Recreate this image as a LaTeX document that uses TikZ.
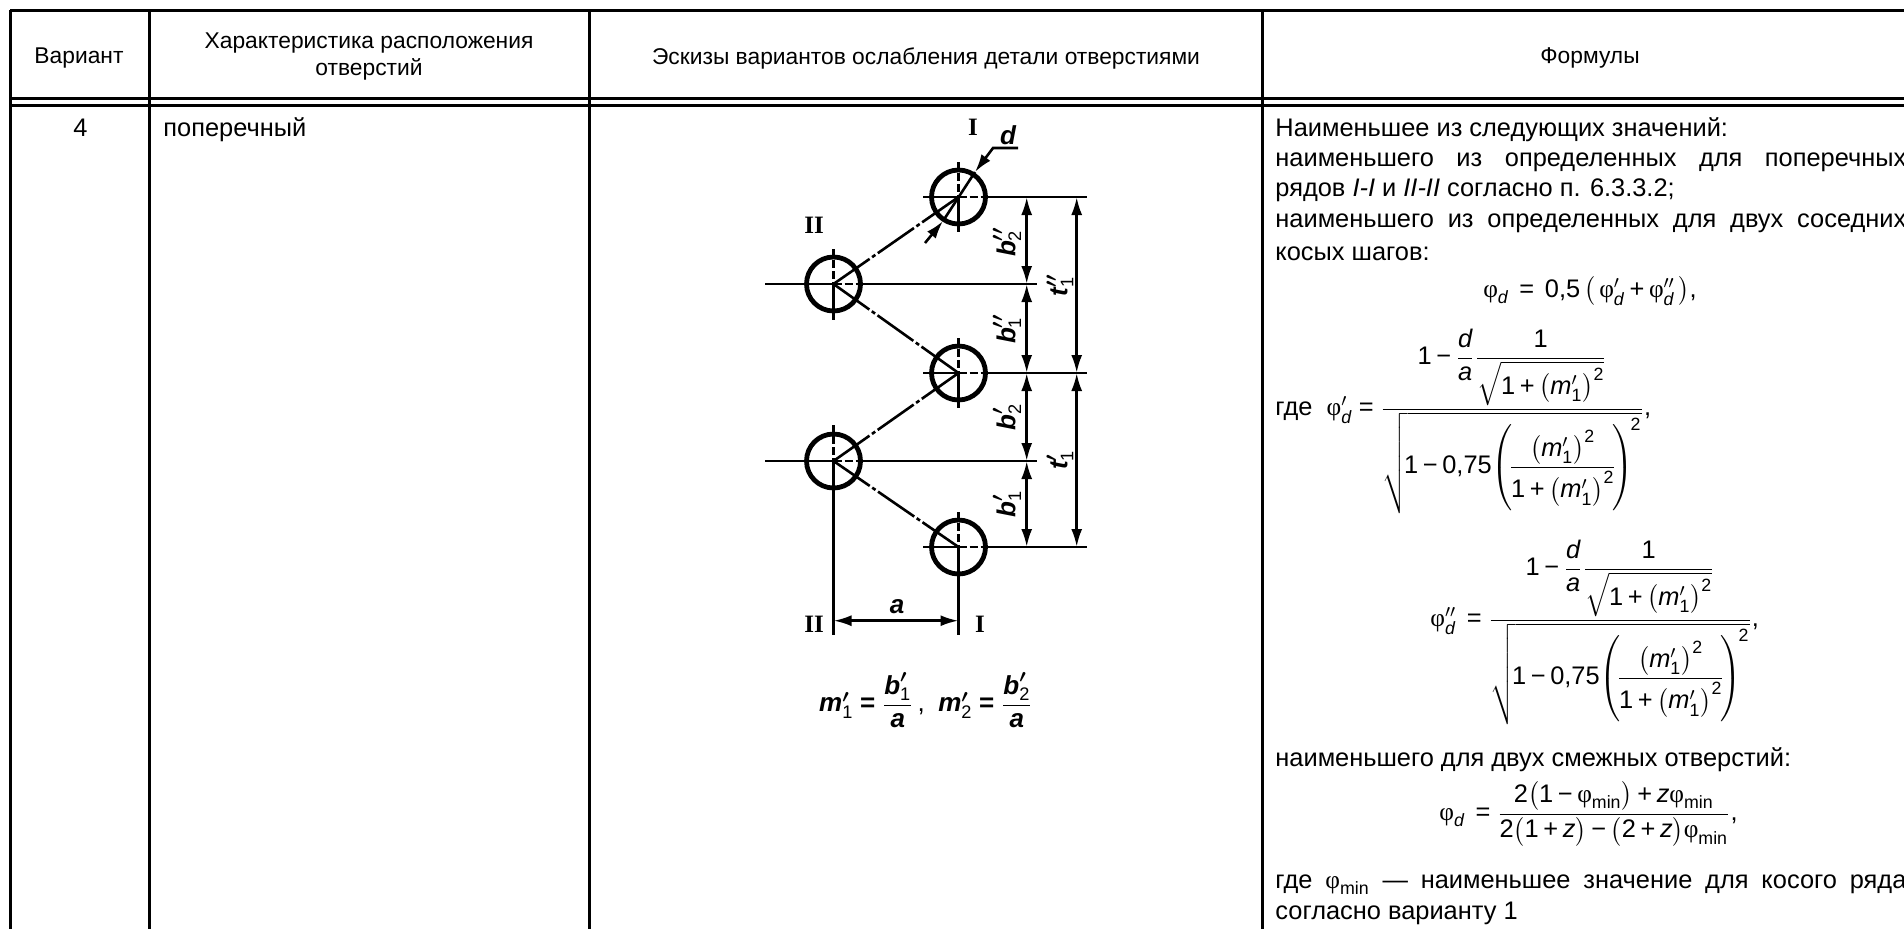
\documentclass[tikz,border=0pt]{standalone}
\usepackage{amsmath}
\usepackage{fontspec}
\setmainfont{Liberation Sans}
\newfontfamily\romfont{Liberation Serif}
\usetikzlibrary{arrows.meta}
\DeclareSymbolFont{chiffres}{TU}{\rmdefault}{m}{n}
\newcommand{\chif}[2]{\Umathcode`#1=#2 \symchiffres `#1\relax}
\AtBeginDocument{\medmuskip=3.5mu
\chif{0}{7}\chif{1}{7}\chif{2}{7}\chif{3}{7}\chif{4}{7}
\chif{5}{7}\chif{6}{7}\chif{7}{7}\chif{8}{7}\chif{9}{7}
\chif{+}{2}\chif{=}{3}\chif{,}{6}
\Umathcode`\-=2 \symchiffres "2212\relax}
\newcommand{\fii}{\text{\romfont φ}}
\newcommand{\bi}[1]{\text{\bfseries\itshape #1}}
\newcommand{\pp}{^{\boldsymbol{\prime}}}
\newcommand{\pq}{^{\boldsymbol{\prime\prime}}}
\newcommand{\beg}{\mathrel{\text{\bfseries =}}}
\newcommand{\mun}{\bigl(\mathit{m}'_1\bigr)^{2}}
\newcommand{\fracd}{\dfrac{1-\dfrac{\mathit{d}}{\mathit{a}}\dfrac{1}{\sqrt{1+\mun}}}{\sqrt{\!1-0{,}75{\left(\rule[-18pt]{0pt}{24pt}\!\dfrac{\mun}{1+\mun}\!\right)}^{\!2}}}}
\tikzset{trou/.style = {circle, draw, line width=2.4pt, minimum size=27pt, inner sep=0pt, outer sep=0pt},
         trait/.style = {line width=1.3pt},
         cadre/.style = {line width=1.5pt},
         axe/.style = {line width=1.3pt, dash pattern=on 4pt off 1.5pt},
         biais/.style = {line width=1.3pt, dash pattern=on 22pt off 1.5pt on 2pt off 1.5pt},
         cote/.style = {line width=1.3pt, {Latex[length=9pt,width=5.5pt]}-{Latex[length=9pt,width=5.5pt]}},
         fleche/.style = {line width=1.3pt, -{Latex[length=9pt,width=5.5pt]}},
         ligne/.style = {anchor=base west, font=\fontsize{12.7}{16}\selectfont},
         num/.style = {font=\romfont\bfseries\fontsize{12.5}{14}\selectfont},
         lettre/.style = {font=\fontsize{13}{16}\selectfont}
        }
\begin{document}
\begin{tikzpicture}[x=0.5pt,y=-0.5pt]
\tikzstyle{every node}=[inner sep=0pt,font=\fontsize{11.4}{13.5}\selectfont]
\useasboundingbox (0,0) rectangle (1904,928);
\coordinate (hg) at (10,10);
\coordinate (hd) at (1906,10);
\coordinate (bg) at (10,930);
\coordinate (m1) at (10,98);
\coordinate (m2) at (1906,98);
\coordinate (n1) at (10,105);
\coordinate (n2) at (1906,105);
\coordinate (v1) at (149.5,10);
\coordinate (w1) at (149.5,930);
\coordinate (v2) at (589,10);
\coordinate (w2) at (589,930);
\coordinate (v3) at (1262,10);
\coordinate (w3) at (1262,930);
\draw[cadre] (hg) -- (hd);
\draw[cadre] (hg) -- (bg);
\draw[cadre] (m1) -- (m2);
\draw[cadre] (n1) -- (n2);
\draw[cadre] (v1) -- (w1);
\draw[cadre] (v2) -- (w2);
\draw[cadre] (v3) -- (w3);
\node at (79,58.5) (tvar) {Вариант};
\node[align=center] at (369,56.5) (tcar) {Характеристика расположения\\отверстий};
\node at (926,58) (tesk) {Эскизы вариантов ослабления детали отверстиями};
\node at (1590,58) (tfor) {Формулы};
\node[ligne] at (79,136) (quatre) {\makebox[0pt]{4}};
\node[ligne] at (163,136) (pop) {поперечный};
%
\node[trou] at (958.5,197) (i1) {};
\node[trou] at (958.5,373) (i2) {};
\node[trou] at (958.5,547) (i3) {};
\node[trou] at (833.5,284) (g1) {};
\node[trou] at (833.5,461) (g2) {};
\coordinate (ig1) at (923,197);
\coordinate (ig2) at (923,373);
\coordinate (ig3) at (923,547);
\coordinate (id1) at (1087,197);
\coordinate (id2) at (1087,373);
\coordinate (id3) at (1087,547);
\coordinate (gg1) at (765,284);
\coordinate (gg2) at (765,461);
\coordinate (gd1) at (1037,284);
\coordinate (gd2) at (1037,461);
\draw[trait] (ig1) -- (i1.center);
\draw[trait] (ig2) -- (i2.center);
\draw[trait] (ig3) -- (i3.center);
\draw[trait] (gg1) -- (g1.center);
\draw[trait] (gg2) -- (g2.center);
\draw[axe] (i1.center) -- (i1.east);
\draw[axe] (i2.center) -- (i2.east);
\draw[axe] (i3.center) -- (i3.east);
\draw[axe] (g1.center) -- (g1.east);
\draw[axe] (g2.center) -- (g2.east);
\draw[trait] (i1.east) -- (id1);
\draw[trait] (i2.east) -- (id2);
\draw[trait] (i3.east) -- (id3);
\draw[trait] (g1.east) -- (gd1);
\draw[trait] (g2.east) -- (gd2);
\coordinate (ih1) at (958.5,162);
\coordinate (ib1) at (958.5,232);
\coordinate (ih2) at (958.5,338);
\coordinate (ib2) at (958.5,408);
\coordinate (ih3) at (958.5,512);
\coordinate (ib3) at (958.5,635);
\coordinate (gh1) at (833.5,249);
\coordinate (gb1) at (833.5,320);
\coordinate (gh2) at (833.5,425);
\coordinate (gb2) at (833.5,635);
\draw[axe] (ih1) -- (i1.center);
\draw[axe] (ih2) -- (i2.center);
\draw[axe] (ih3) -- (i3.center);
\draw[axe] (gh1) -- (g1.center);
\draw[axe] (gh2) -- (g2.center);
\draw[trait] (i1.center) -- (ib1);
\draw[trait] (i2.center) -- (ib2);
\draw[trait] (i3.center) -- (ib3);
\draw[trait] (g1.center) -- (gb1);
\draw[trait] (g2.center) -- (gb2);
\draw[biais] (g1.center) -- (i1.center);
\draw[biais] (g1.center) -- (i2.center);
\draw[biais] (g2.center) -- (i2.center);
\draw[biais] (g2.center) -- (i3.center);
\coordinate (d1) at (1018,148);
\coordinate (d2) at (993,148);
\coordinate (d3) at (975,172);
\coordinate (d4) at (943,221);
\coordinate (d5) at (925,243);
\draw[fleche] (d1) -- (d2) -- (d3);
\draw[trait] (d3) -- (d4);
\draw[fleche] (d5) -- (d4);
\coordinate (c1) at (1026.7,197);
\coordinate (c2) at (1026.7,284);
\coordinate (c3) at (1026.7,373);
\coordinate (c4) at (1026.7,461);
\coordinate (c5) at (1026.7,547);
\coordinate (t1) at (1076.7,197);
\coordinate (t2) at (1076.7,373);
\coordinate (t3) at (1076.7,547);
\coordinate (a1) at (833.5,620.7);
\coordinate (a2) at (958.5,620.7);
\draw[cote] (c1) -- (c2);
\draw[cote] (c2) -- (c3);
\draw[cote] (c3) -- (c4);
\draw[cote] (c4) -- (c5);
\draw[cote] (t1) -- (t2);
\draw[cote] (t2) -- (t3);
\draw[cote] (a1) -- (a2);
\node[num] at (973,127) (li1) {I};
\node[num] at (814,225) (lii1) {II};
\node[num] at (814,624) (lii2) {II};
\node[num] at (980,624) (li2) {I};
\node[lettre] at (1008,135) (ld) {$\bi{d}$};
\node[lettre] at (897,607) (la) {$\bi{a}$};
\node[lettre,rotate=90] at (1007,242) (lb22) {$\bi{b}\pq_2$};
\node[lettre,rotate=90] at (1007,329) (lb21) {$\bi{b}\pq_1$};
\node[lettre,rotate=90] at (1007,417) (lb12) {$\bi{b}\pp_2$};
\node[lettre,rotate=90] at (1007,504) (lb11) {$\bi{b}\pp_1$};
\node[lettre,rotate=90] at (1060,285) (lt2) {$\bi{t}\pq_1$};
\node[lettre,rotate=90] at (1060,460) (lt1) {$\bi{t}\pp_1$};
\node[lettre,anchor=base] at (926,711) (lm) {$\bi{m}\pp_1\beg\dfrac{\bi{b}\pp_1}{\bi{a}}\,\text{,}\;\;\bi{m}\pp_2\beg\dfrac{\bi{b}\pp_2}{\bi{a}}$};
%
\node[ligne] at (1275,136) (f1) {Наименьшее из следующих значений:};
\node[ligne] at (1275,166) (f2) {\makebox[315.5pt][s]{наименьшего из определенных для поперечных}};
\node[ligne] at (1275,196) (f3) {рядов \textit{I-I} и \textit{II-II} согласно п. 6.3.3.2;};
\node[ligne] at (1275,227) (f4) {\makebox[315.5pt][s]{наименьшего из определенных для двух соседних}};
\node[ligne] at (1275,260) (f5) {косых шагов:};
\node[ligne,anchor=base] at (1590,297) (eq1) {$\fii_{\mathit{d}}\,=\,0{,}5\,\bigl(\,\fii'_{\mathit{d}}+\fii''_{\mathit{d}}\,\bigr),$};
\node[ligne] at (1275,415) (eq2) {где\ \ $\fii'_{\mathit{d}}=\fracd,$};
\node[ligne] at (1430,626) (eq3) {$\fii''_{\mathit{d}}\,=\fracd,$};
\node[ligne] at (1275,766) (f6) {наименьшего для двух смежных отверстий:};
\node[ligne] at (1439,820) (eq4) {$\fii_{\mathit{d}}\,=\dfrac{2\bigl(1-\fii_{\mathrm{min}}\bigr)+\mathit{z}\fii_{\mathrm{min}}}{2\bigl(1+\mathit{z}\bigr)-\bigl(2+\mathit{z}\bigr)\fii_{\mathrm{min}}},$};
\node[ligne] at (1275,888) (f7) {\makebox[315.5pt][s]{где $\fii_{\mathrm{min}}$ — наименьшее значение для косого ряда}};
\node[ligne] at (1275,919) (f8) {согласно варианту 1};
\end{tikzpicture}
\end{document}
